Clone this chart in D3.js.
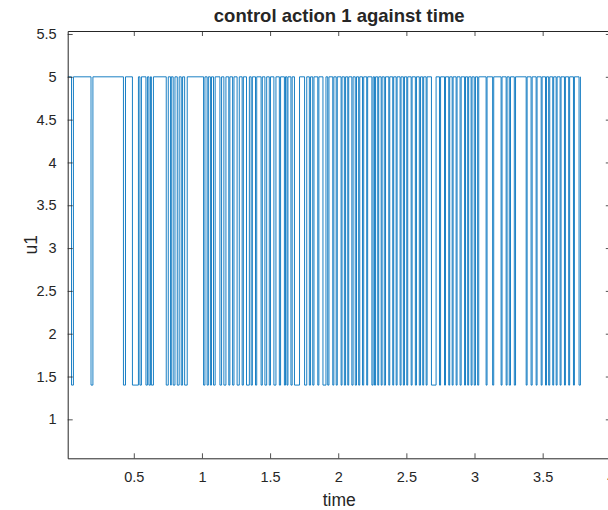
<!DOCTYPE html>
<html>
<head>
<meta charset="utf-8">
<script src="https://cdn.jsdelivr.net/npm/d3@7"></script>
<style>
  html, body { margin: 0; padding: 0; background: #fff; }
  svg { display: block; }
  text { font-family: "Liberation Sans", Arial, Helvetica, sans-serif; fill: #262626; }
</style>
</head>
<body>
<svg id="chart" width="608" height="510"></svg>
<script>
// Control action u1: bang-bang signal between the two levels below.
const uHigh = 5;
const uLow = 1.4;
const tStart = 0.015;
const tEnd = 3.778;

// Intervals (in time) during which u1 sits at the low level.
const lowStart = [
  0.043, 0.186, 0.424, 0.490, 0.545, 0.589, 0.611, 0.629, 0.738, 0.770,
  0.789, 0.819, 0.848, 0.873,
  1.012, 1.038, 1.062, 1.085, 1.132, 1.161, 1.197, 1.225, 1.258, 1.295,
  1.327, 1.361, 1.393, 1.434, 1.462, 1.494, 1.528, 1.568, 1.605, 1.624,
  1.653, 1.679, 1.753, 1.788, 1.813, 1.850, 1.888, 1.923, 1.960, 1.985,
  2.021, 2.045, 2.070, 2.100, 2.125, 2.150, 2.178, 2.209, 2.247, 2.266,
  2.290, 2.315, 2.338, 2.371, 2.400, 2.425, 2.454, 2.478, 2.503, 2.535,
  2.566, 2.595, 2.620, 2.645, 2.684, 2.743, 2.780, 2.811, 2.836, 2.865,
  2.894, 2.927, 2.950, 2.975, 2.998, 3.023, 3.085, 3.133, 3.195, 3.232,
  3.255, 3.292, 3.379, 3.415, 3.452, 3.489, 3.521, 3.544, 3.574, 3.599,
  3.628, 3.660, 3.691, 3.726, 3.767
];
const lowEnd = [
  0.057, 0.200, 0.439, 0.534, 0.556, 0.600, 0.622, 0.644, 0.753, 0.775,
  0.802, 0.833, 0.858, 0.892,
  1.022, 1.047, 1.070, 1.097, 1.144, 1.176, 1.205, 1.235, 1.274, 1.304,
  1.348, 1.370, 1.402, 1.443, 1.475, 1.503, 1.543, 1.577, 1.613, 1.631,
  1.662, 1.716, 1.769, 1.797, 1.822, 1.858, 1.910, 1.932, 1.968, 1.993,
  2.028, 2.054, 2.077, 2.109, 2.134, 2.158, 2.187, 2.216, 2.256, 2.274,
  2.297, 2.322, 2.347, 2.378, 2.407, 2.432, 2.461, 2.486, 2.510, 2.542,
  2.574, 2.604, 2.627, 2.652, 2.718, 2.751, 2.787, 2.818, 2.843, 2.872,
  2.902, 2.934, 2.957, 2.982, 3.007, 3.031, 3.092, 3.141, 3.202, 3.239,
  3.264, 3.301, 3.386, 3.423, 3.459, 3.496, 3.528, 3.552, 3.581, 3.606,
  3.635, 3.667, 3.698, 3.733, 3.777
];

const xTicks = [0.5, 1, 1.5, 2, 2.5, 3, 3.5, 4];
const yTicks = [1, 1.5, 2, 2.5, 3, 3.5, 4, 4.5, 5, 5.5];
const xDomain = [0.015, 4];
const yDomain = [0.545, 5.535];

const titleText = "control action 1 against time";
const xLabelText = "time";
const yLabelText = "u1";

// Step series built from the low intervals.
const series = [{ t: tStart, u: uHigh }];
lowStart.forEach((s, i) => {
  series.push({ t: s, u: uLow });
  series.push({ t: lowEnd[i], u: uHigh });
});
series.push({ t: tEnd, u: uHigh });

const plot = { left: 67.7, right: 610.8, top: 31, bottom: 458.3 };
const svg = d3.select("#chart");
svg.append("rect").attr("width", 608).attr("height", 510).attr("fill", "#fff");

const x = d3.scaleLinear().domain(xDomain).range([plot.left, plot.right]);
const y = d3.scaleLinear().domain(yDomain).range([plot.bottom, plot.top]);

const axisColor = "#262626";
const tickLen = 5;

// Data line
const line = d3.line()
  .x(d => x(d.t))
  .y(d => y(d.u))
  .curve(d3.curveStepAfter);

svg.append("defs").append("clipPath").attr("id", "clip")
  .append("rect")
  .attr("x", plot.left).attr("y", plot.top)
  .attr("width", plot.right - plot.left).attr("height", plot.bottom - plot.top);

svg.append("path")
  .datum(series)
  .attr("clip-path", "url(#clip)")
  .attr("fill", "none")
  .attr("stroke", "#0072BD")
  .attr("stroke-width", 0.9)
  .attr("d", line);

// Axes (ticks point inward, mirrored on top and right)
function styleAxis(g) {
  g.selectAll(".domain").attr("stroke", axisColor).attr("stroke-width", 1);
  g.selectAll(".tick line").attr("stroke", axisColor).attr("stroke-width", 0.8);
  g.selectAll(".tick text")
    .attr("fill", axisColor)
    .style("font-size", "14.5px");
}

const fmt = d => String(d);

const gx = svg.append("g")
  .attr("transform", `translate(0,${plot.bottom})`)
  .call(d3.axisBottom(x).tickValues(xTicks).tickFormat(fmt)
    .tickSizeInner(-tickLen).tickSizeOuter(0).tickPadding(13));
styleAxis(gx);

const gxTop = svg.append("g")
  .attr("transform", `translate(0,${plot.top})`)
  .call(d3.axisTop(x).tickValues(xTicks).tickFormat("")
    .tickSizeInner(-tickLen).tickSizeOuter(0));
styleAxis(gxTop);

const gy = svg.append("g")
  .attr("transform", `translate(${plot.left},0)`)
  .call(d3.axisLeft(y).tickValues(yTicks).tickFormat(fmt)
    .tickSizeInner(-tickLen).tickSizeOuter(0).tickPadding(11));
styleAxis(gy);

const gyRight = svg.append("g")
  .attr("transform", `translate(${plot.right},0)`)
  .call(d3.axisRight(y).tickValues(yTicks).tickFormat("")
    .tickSizeInner(-tickLen).tickSizeOuter(0));
styleAxis(gyRight);

// Title and axis labels
svg.append("text")
  .attr("x", (plot.left + plot.right) / 2)
  .attr("y", 22)
  .attr("text-anchor", "middle")
  .style("font-size", "18.5px")
  .style("font-weight", "bold")
  .attr("fill", "#000")
  .text(titleText);

svg.append("text")
  .attr("x", (plot.left + plot.right) / 2)
  .attr("y", 506)
  .attr("text-anchor", "middle")
  .style("font-size", "17.5px")
  .text(xLabelText);

svg.append("text")
  .attr("transform", `translate(37,${(plot.top + plot.bottom) / 2}) rotate(-90)`)
  .attr("text-anchor", "middle")
  .style("font-size", "17.5px")
  .text(yLabelText);
</script>
</body>
</html>
